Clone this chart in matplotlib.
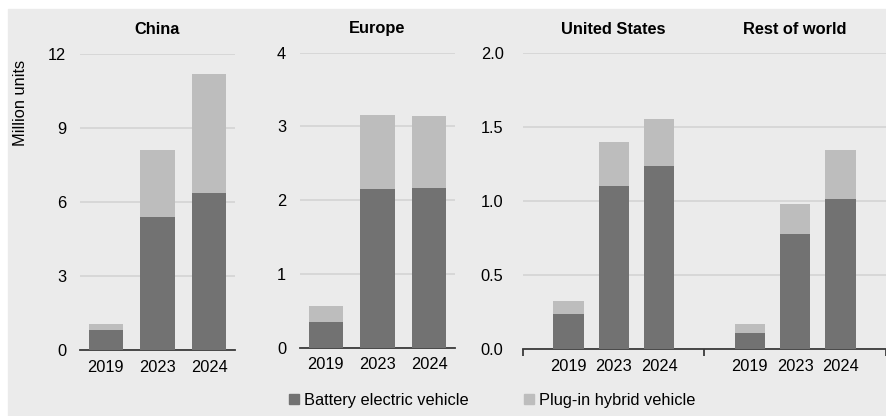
import matplotlib.pyplot as plt
from matplotlib.patches import Rectangle
import matplotlib.transforms as mtransforms
import numpy as np

plt.rcParams['font.family'] = ['Liberation Sans', 'DejaVu Sans']
plt.rcParams['font.size'] = 11.8

# data (million units)
years = ['2019', '2023', '2024']
china_bev = [0.81, 5.4, 6.35]
china_phev = [0.24, 2.7, 4.85]
europe_bev = [0.35, 2.15, 2.16]
europe_phev = [0.22, 1.0, 0.98]
us_bev = [0.24, 1.105, 1.235]
us_phev = [0.085, 0.295, 0.32]
row_bev = [0.106, 0.776, 1.015]
row_phev = [0.064, 0.204, 0.331]

bev_col = '#727272'
phev_col = '#bdbdbd'
grid_col = '#d2d2d2'
base_col = '#3a3a3a'

W, H = 887, 416
fig = plt.figure(figsize=(W / 100, H / 100), dpi=100)
fig.patch.set_facecolor('white')
fig.patches.append(Rectangle((8 / W, 0), 1 - 8 / W, 1 - 9 / H,
                             transform=fig.transFigure, color='#ebebeb', zorder=-10))


def px_axes(x0, x1, y0, y1):
    # pixel box (top-left origin) -> axes
    return fig.add_axes([x0 / W, 1 - y0 / H, (x1 - x0) / W, (y0 - y1) / H])


def style(ax, ymax, step, fmt):
    ax.set_facecolor('none')
    for s in ['top', 'right', 'left']:
        ax.spines[s].set_visible(False)
    ax.spines['bottom'].set_color(base_col)
    ax.spines['bottom'].set_linewidth(1.3)
    ax.set_ylim(0, ymax)
    ticks = np.arange(0, ymax + step / 2, step)
    ax.set_yticks(ticks)
    ax.set_yticklabels([fmt.format(t) for t in ticks])
    ax.tick_params(axis='y', length=0, pad=10)
    ax.tick_params(axis='x', length=0, pad=7)
    ax.yaxis.grid(True, color=grid_col, linewidth=1.1)
    ax.set_axisbelow(True)


def bars(ax, x, bev, phev, w):
    ax.bar(x, bev, width=w, color=bev_col, zorder=3)
    ax.bar(x, phev, width=w, bottom=bev, color=phev_col, zorder=3)


tops = fig.transFigure
title_y = 1 - 29 / H

# China
ax1 = px_axes(80, 235, 350, 54)
x = np.arange(3)
bars(ax1, x, china_bev, china_phev, 0.66)
ax1.set_xlim(-0.5, 2.5)
ax1.set_xticks(x)
ax1.set_xticklabels(years)
style(ax1, 12, 3, '{:.0f}')
ax1.text(0.5, title_y, 'China', fontweight='bold', ha='center', va='center',
         transform=mtransforms.blended_transform_factory(ax1.transAxes, tops))

# Europe
ax2 = px_axes(300, 455, 347.7, 52.7)
bars(ax2, x, europe_bev, europe_phev, 0.66)
ax2.set_xlim(-0.5, 2.5)
ax2.set_xticks(x)
ax2.set_xticklabels(years)
style(ax2, 4, 1, '{:.0f}')
ax2.text(0.5, title_y, 'Europe', fontweight='bold', ha='center', va='center',
         transform=mtransforms.blended_transform_factory(ax2.transAxes, tops))

# United States + Rest of world
ax3 = px_axes(523, 886, 349, 53.3)
xu = np.array([1, 2, 3])
xr = np.array([5, 6, 7])
bars(ax3, xu, us_bev, us_phev, 0.67)
bars(ax3, xr, row_bev, row_phev, 0.67)
ax3.set_xlim(0, 8)
ax3.set_xticks(list(xu) + list(xr))
ax3.set_xticklabels(years + years)
ax3.set_xticks([0, 4, 8], minor=True)
style(ax3, 2.0, 0.5, '{:.1f}')
ax3.tick_params(axis='x', which='minor', length=5, width=1.3, color=base_col, direction='out')
ax3.tick_params(axis='y', pad=14)
blend3 = mtransforms.blended_transform_factory(ax3.transData, tops)
ax3.text(2, title_y, 'United States', fontweight='bold', ha='center', va='center', transform=blend3)
ax3.text(6, title_y, 'Rest of world', fontweight='bold', ha='center', va='center', transform=blend3)

fig.text(21 / W, 1 - 103 / H, 'Million units', rotation=90, ha='center', va='center')

handles = [Rectangle((0, 0), 1, 1, color=bev_col), Rectangle((0, 0), 1, 1, color=phev_col)]
fig.legend(handles, ['Battery electric vehicle', 'Plug-in hybrid vehicle'],
           loc='center', bbox_to_anchor=(492 / W, 1 - 400 / H), ncol=2, frameon=False,
           handlelength=0.6, handleheight=0.6, handletextpad=0.3, columnspacing=3.4,
           borderpad=0, borderaxespad=0)

fig.savefig('out.png', dpi=100)
